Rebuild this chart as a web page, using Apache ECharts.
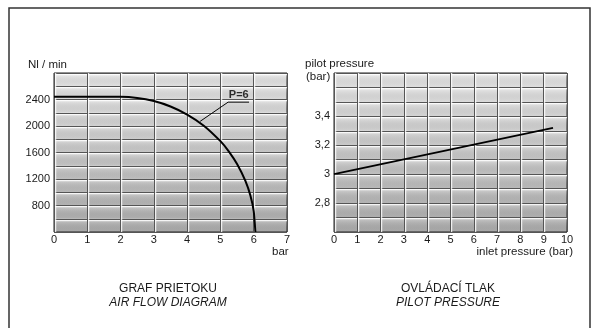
<!DOCTYPE html>
<html>
<head>
<meta charset="utf-8">
<script src="https://cdn.jsdelivr.net/npm/echarts@6/dist/echarts.min.js"></script>
<style>
  html, body { margin: 0; padding: 0; background: #fff; }
  #chart { width: 597px; height: 328px; }
</style>
</head>
<body>
<div id="chart"></div>
<script>
// air flow diagram (left)
const flowX = [0, 1, 2, 2.5, 3, 3.5, 4, 4.5, 5, 5.25, 5.5, 5.75, 5.9, 6.0, 6.05]
const flowY = [2440, 2440, 2440, 2424, 2377, 2295, 2173, 2005, 1771, 1618, 1426, 1171, 951, 716, 400]
const flowTicks = [800, 1200, 1600, 2000, 2400]
// P=6 callout
const leaderX = [4.39, 5.23, 5.86]
const leaderY = [2070, 2360, 2360]
const calloutPos = [5.55, 2360]
const calloutText = 'P=6'

// pilot pressure (right)
const pilotX = [0, 9.4]
const pilotY = [3.0, 3.32]
const pilotTicks = [2.8, 3.0, 3.2, 3.4]

const font = 'Liberation Sans, Arial, sans-serif'
const ink = '#1a1a1a'

const chart = echarts.init(document.getElementById('chart'))

const plotBg = {
  type: 'linear', x: 0, y: 0, x2: 0, y2: 1,
  colorStops: [
    { offset: 0, color: '#f0f0f0' },
    { offset: 1, color: '#b2b2b2' },
  ],
}

const tileShade = {
  type: 'linear', x: 0, y: 0, x2: 0, y2: 1,
  colorStops: [
    { offset: 0, color: 'rgba(255,255,255,0.35)' },
    { offset: 1, color: 'rgba(0,0,0,0.04)' },
  ],
}

const hLines = {
  show: true,
  lineStyle: { color: '#555', width: 1, shadowColor: '#ffffff', shadowOffsetY: 1.2, shadowBlur: 0 },
}
const vLines = {
  show: true,
  lineStyle: { color: '#555', width: 1, shadowColor: '#ffffff', shadowOffsetX: 1.2, shadowBlur: 0 },
}

const labelBase = { color: ink, fontFamily: font, fontSize: 11 }
const nameStyle = { fontFamily: font, fontSize: 11.5, fontWeight: 'normal', color: ink }

chart.setOption({
  animation: false,
  backgroundColor: '#fff',
  title: [
    {
      text: 'GRAF PRIETOKU',
      subtext: 'AIR FLOW DIAGRAM',
      left: 168, top: 283, textAlign: 'center', itemGap: 2, padding: 0,
      textStyle: { fontFamily: font, fontSize: 12, fontWeight: 'normal', color: ink },
      subtextStyle: { fontFamily: font, fontSize: 12, fontStyle: 'italic', color: ink },
    },
    {
      text: 'OVLÁDACÍ TLAK',
      subtext: 'PILOT PRESSURE',
      left: 448, top: 283, textAlign: 'center', itemGap: 2, padding: 0,
      textStyle: { fontFamily: font, fontSize: 12, fontWeight: 'normal', color: ink },
      subtextStyle: { fontFamily: font, fontSize: 12, fontStyle: 'italic', color: ink },
    },
    { text: 'Nl / min', left: 28, top: 59, padding: 0, textStyle: nameStyle },
    { text: 'bar', left: 272, top: 246, padding: 0, textStyle: nameStyle },
    { text: 'pilot pressure', left: 305, top: 58, padding: 0, textStyle: nameStyle },
    { text: '(bar)', left: 306, top: 71, padding: 0, textStyle: nameStyle },
    { text: 'inlet pressure (bar)', right: 24, top: 246, padding: 0, textStyle: nameStyle },
  ],
  graphic: [
    {
      type: 'rect',
      shape: { x: 9, y: 8, width: 581, height: 330 },
      style: { fill: 'none', stroke: '#333', lineWidth: 1.5 },
      silent: true,
    },
  ],
  grid: [
    { left: 54, top: 73, width: 233, height: 159, show: true, backgroundColor: plotBg, borderColor: '#222', borderWidth: 1 },
    { left: 334, top: 73, width: 233, height: 159, show: true, backgroundColor: plotBg, borderColor: '#222', borderWidth: 1 },
  ],
  xAxis: [
    {
      gridIndex: 0, type: 'value', min: 0, max: 7, interval: 1,
      axisLine: { show: false }, axisTick: { show: false },
      axisLabel: { ...labelBase, margin: 2 },
      splitLine: vLines,
    },
    {
      gridIndex: 1, type: 'value', min: 0, max: 10, interval: 1,
      axisLine: { show: false }, axisTick: { show: false },
      axisLabel: { ...labelBase, margin: 2 },
      splitLine: vLines,
    },
  ],
  yAxis: [
    {
      gridIndex: 0, type: 'value', min: 400, max: 2800, interval: 200,
      axisLine: { show: false }, axisTick: { show: false },
      axisLabel: {
        ...labelBase, margin: 4, showMinLabel: true, showMaxLabel: true,
        formatter: (v) => (flowTicks.includes(v) ? String(v) : ''),
      },
      splitLine: hLines,
      splitArea: { show: true, areaStyle: { color: [tileShade] } },
    },
    {
      gridIndex: 1, type: 'value', min: 2.6, max: 3.7, interval: 0.1,
      axisLine: { show: false }, axisTick: { show: false },
      axisLabel: {
        ...labelBase, margin: 4, showMinLabel: true, showMaxLabel: true,
        formatter: (v) => {
          const r = Math.round(v * 10) / 10
          return pilotTicks.some((t) => Math.abs(t - r) < 1e-6) ? String(r).replace('.', ',') : ''
        },
      },
      splitLine: hLines,
      splitArea: { show: true, areaStyle: { color: [tileShade] } },
    },
  ],
  series: [
    {
      name: 'P=6',
      type: 'line',
      xAxisIndex: 0, yAxisIndex: 0,
      data: flowX.map((x, i) => [x, flowY[i]]),
      smooth: 0.2,
      showSymbol: false,
      lineStyle: { color: '#000', width: 2 },
      z: 5,
    },
    {
      name: 'leader',
      type: 'line',
      xAxisIndex: 0, yAxisIndex: 0,
      data: leaderX.map((x, i) => [x, leaderY[i]]),
      showSymbol: false,
      lineStyle: { color: '#000', width: 1 },
      z: 5,
    },
    {
      name: 'callout',
      type: 'scatter',
      xAxisIndex: 0, yAxisIndex: 0,
      data: [calloutPos],
      symbolSize: 1,
      itemStyle: { color: 'rgba(0,0,0,0)' },
      label: {
        show: true, position: 'top', distance: 1,
        formatter: calloutText,
        fontFamily: font, fontSize: 11, fontWeight: 'bold', color: '#000',
      },
      z: 6,
    },
    {
      name: 'pilot',
      type: 'line',
      xAxisIndex: 1, yAxisIndex: 1,
      data: pilotX.map((x, i) => [x, pilotY[i]]),
      showSymbol: false,
      lineStyle: { color: '#000', width: 1.8 },
      z: 5,
    },
  ],
})
</script>
</body>
</html>
